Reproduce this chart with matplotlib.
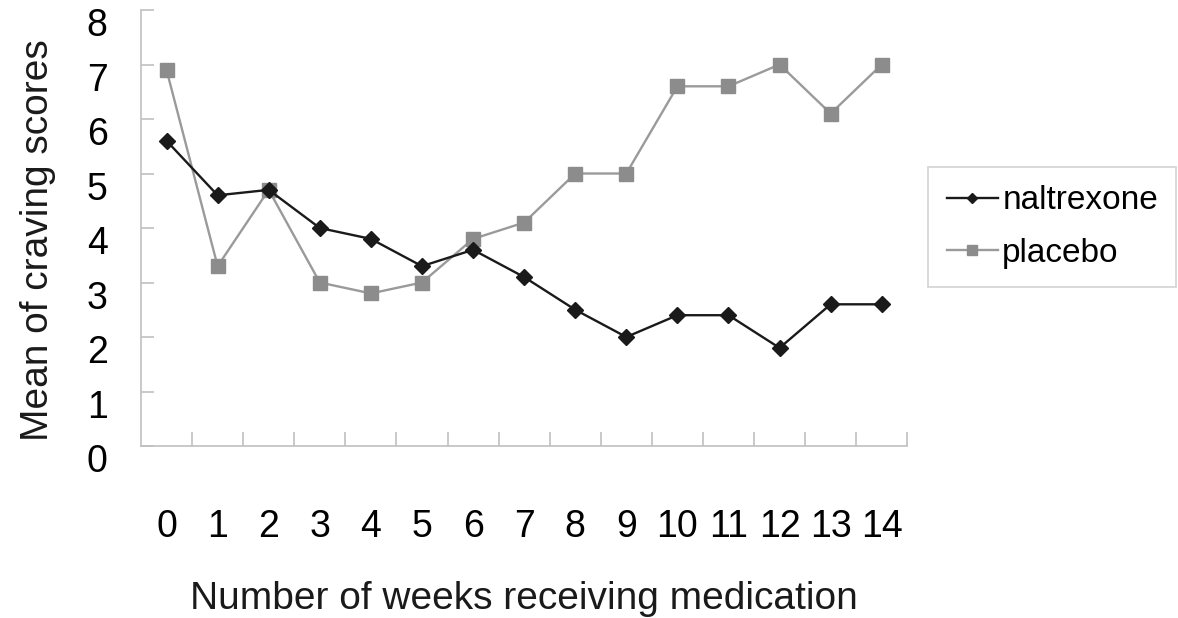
import matplotlib
matplotlib.use("Agg")
import matplotlib.pyplot as plt
from matplotlib.transforms import ScaledTranslation

weeks = list(range(15))
week_labels = [str(w) for w in weeks]
naltrexone = [5.6, 4.6, 4.7, 4.0, 3.8, 3.3, 3.6, 3.1, 2.5, 2.0, 2.4, 2.4, 1.8, 2.6, 2.6]
placebo = [6.9, 3.3, 4.7, 3.0, 2.8, 3.0, 3.8, 4.1, 5.0, 5.0, 6.6, 6.6, 7.0, 6.1, 7.0]
y_ticks = list(range(9))

plt.rcParams['font.family'] = ['Liberation Sans', 'DejaVu Sans']

fig = plt.figure(figsize=(11.78, 6.18), dpi=100)
ax = fig.add_axes([0.1197, 0.2783, 0.6505, 0.7055])

ax.plot(weeks, placebo, color='#9a9a9a', lw=1.7, marker='s', ms=9.5,
        mfc='#8c8c8c', mec='#8c8c8c', label='placebo', zorder=2)
ax.plot(weeks, naltrexone, color='#1a1a1a', lw=1.7, marker='D', ms=8,
        mfc='#1a1a1a', mec='#1a1a1a', label='naltrexone', zorder=3)

ax.set_xlim(-0.5, 14.5)
ax.set_ylim(0, 8)

for s in ['top', 'right']:
    ax.spines[s].set_visible(False)
for s in ['left', 'bottom']:
    ax.spines[s].set_color('#c0c0c0')
    ax.spines[s].set_linewidth(1.2)

ax.set_xticks(weeks)
ax.set_xticklabels(week_labels)
ax.set_xticks([w + 0.5 for w in weeks], minor=True)
ax.tick_params(axis='x', which='major', length=0, pad=45, labelsize=27)
ax.tick_params(axis='x', which='minor', direction='in', length=10, color='#c0c0c0', width=1.2)

ax.set_yticks(y_ticks)
ax.tick_params(axis='y', which='major', direction='in', length=9, color='#c0c0c0',
               width=1.2, labelsize=27, pad=24)
off = ScaledTranslation(0, -12 / 100, fig.dpi_scale_trans)
for lbl in ax.get_yticklabels():
    lbl.set_transform(lbl.get_transform() + off)

fig.text(0.032, 0.612, 'Mean of craving scores', rotation=90, fontsize=28,
         ha='center', va='center', color='#1a1a1a')
fig.text(0.445, 0.030, 'Number of weeks receiving medication', fontsize=28,
         ha='center', va='center', color='#1a1a1a')

handles, labels = ax.get_legend_handles_labels()
leg = fig.legend(handles[::-1], labels[::-1], loc='upper left',
                 bbox_to_anchor=(0.788, 0.730), bbox_transform=fig.transFigure,
                 fontsize=24, frameon=True, fancybox=False, borderaxespad=0,
                 handlelength=1.55, handletextpad=0.12, labelspacing=0.65,
                 borderpad=0.55, markerscale=0.7)
leg.get_frame().set_edgecolor('#c8c8c8')
leg.get_frame().set_linewidth(1.2)

fig.savefig('out.png', dpi=100)
